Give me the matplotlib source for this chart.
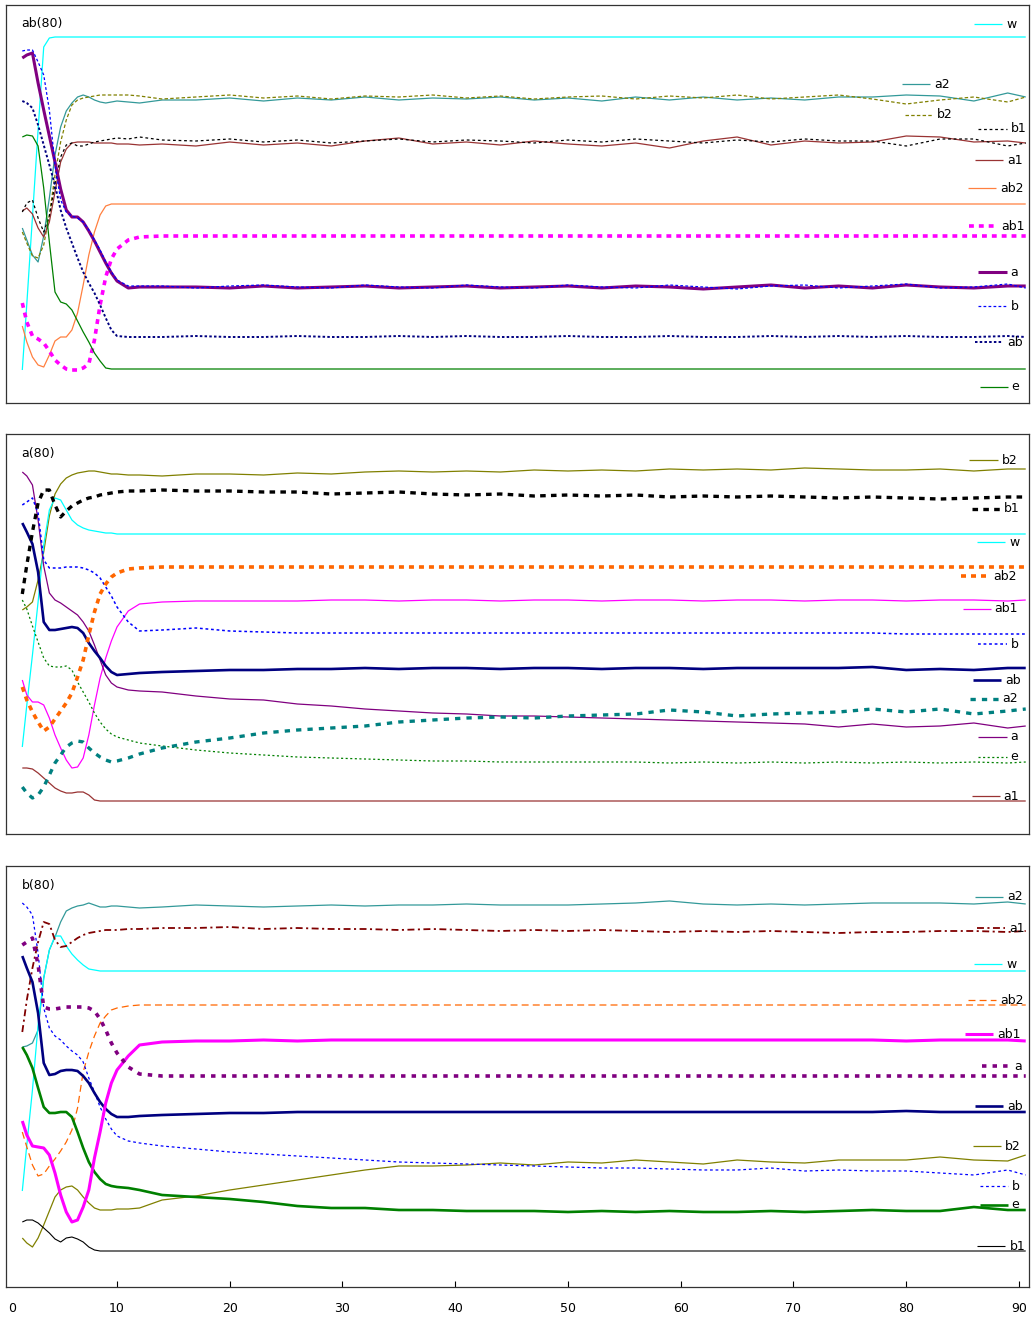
import matplotlib
matplotlib.use("Agg")
import matplotlib.pyplot as plt

plt.rcParams["font.family"] = ["DejaVu Sans"]
plt.rcParams["lines.scale_dashes"] = False

# time axis shared by all three panels
X = [1.6, 2, 2.5, 3, 3.5, 4, 4.5, 5, 5.5, 6, 6.5, 7, 7.5, 8, 8.5, 9, 9.5, 10, 11, 12,
     14, 17, 20, 23, 26, 29, 32, 35, 38, 41, 44, 47, 50, 53, 56, 59, 62, 65, 68, 71,
     74, 77, 80, 83, 86, 89, 90.6]

# ---- panel 1 : ab(80) ----
p1_w = [33, 99, 186, 273, 356, 365, 366, 366, 366, 366, 366, 366, 366, 366, 366, 366, 366, 366, 366, 366,
        366, 366, 366, 366, 366, 366, 366, 366, 366, 366, 366, 366, 366, 366, 366, 366, 366, 366, 366, 366,
        366, 366, 366, 366, 366, 366, 366]
p1_a2 = [175, 163, 148, 141, 167, 205, 248, 276, 292, 300, 306, 308, 306, 303, 301, 300, 301, 302, 301, 300,
         303, 303, 305, 302, 305, 303, 306, 303, 305, 304, 306, 303, 305, 302, 306, 303, 306, 303, 305, 303,
         306, 306, 308, 307, 302, 310, 306]
p1_b2 = [171, 160, 147, 145, 158, 188, 228, 261, 283, 298, 303, 305, 306, 307, 308, 308, 308, 308, 308, 307,
         304, 306, 308, 305, 307, 304, 307, 306, 308, 305, 307, 304, 306, 307, 304, 307, 305, 308, 304, 306,
         308, 304, 299, 303, 306, 301, 306]
p1_b1 = [191, 200, 203, 185, 171, 187, 219, 246, 258, 260, 257, 257, 259, 261, 262, 263, 264, 265, 264, 266,
         263, 262, 264, 261, 263, 260, 262, 264, 261, 263, 262, 260, 263, 261, 264, 262, 260, 263, 261, 264,
         262, 262, 257, 264, 264, 257, 260]
p1_a1 = [192, 195, 189, 175, 166, 181, 211, 241, 254, 260, 261, 261, 261, 260, 260, 260, 260, 259, 259, 258,
         259, 257, 261, 258, 260, 257, 262, 265, 259, 261, 258, 262, 259, 257, 260, 255, 262, 266, 258, 262,
         260, 261, 267, 266, 261, 262, 260]
p1_ab2 = [77, 61, 46, 38, 36, 48, 62, 66, 66, 73, 90, 118, 148, 171, 188, 197, 199, 199, 199, 199,
          199, 199, 199, 199, 199, 199, 199, 199, 199, 199, 199, 199, 199, 199, 199, 199, 199, 199, 199, 199,
          199, 199, 199, 199, 199, 199, 199]
p1_ab1 = [100, 81, 67, 64, 60, 52, 43, 38, 34, 33, 33, 35, 39, 63, 98, 126, 144, 154, 163, 166,
          167, 167, 167, 167, 167, 167, 167, 167, 167, 167, 167, 167, 167, 167, 167, 167, 167, 167, 167, 167,
          167, 167, 167, 167, 167, 167, 167]
p1_a = [345, 348, 350, 320, 293, 267, 241, 214, 193, 186, 186, 181, 172, 162, 151, 140, 130, 122, 115, 116,
        116, 116, 115, 117, 115, 116, 117, 115, 116, 117, 115, 116, 117, 115, 117, 116, 114, 116, 118, 115,
        117, 115, 118, 116, 115, 117, 117]
p1_b = [352, 353, 353, 341, 328, 293, 238, 203, 191, 187, 185, 181, 173, 163, 153, 141, 131, 123, 117, 117,
        117, 115, 117, 118, 116, 115, 118, 116, 115, 118, 116, 115, 118, 116, 115, 118, 116, 114, 117, 118,
        115, 117, 119, 115, 116, 119, 115]
p1_ab = [302, 300, 295, 278, 258, 238, 218, 193, 175, 160, 145, 131, 120, 110, 98, 85, 73, 67, 66, 66,
         66, 67, 66, 66, 67, 66, 66, 67, 66, 67, 66, 66, 67, 66, 66, 67, 66, 66, 67, 66,
         67, 66, 67, 66, 66, 67, 66]
p1_e = [266, 268, 267, 257, 215, 161, 111, 101, 99, 93, 82, 71, 61, 50, 42, 35, 34, 34, 34, 34,
        34, 34, 34, 34, 34, 34, 34, 34, 34, 34, 34, 34, 34, 34, 34, 34, 34, 34, 34, 34,
        34, 34, 34, 34, 34, 34, 34]

# ---- panel 2 : a(80) ----
p2_b2 = [224, 227, 232, 254, 282, 318, 340, 350, 356, 359, 361, 362, 363, 363, 362, 361, 360, 360, 359, 359,
         358, 360, 360, 359, 361, 360, 362, 363, 362, 363, 362, 364, 363, 364, 363, 365, 364, 365, 364, 366,
         365, 364, 364, 365, 363, 365, 365]
p2_b1 = [240, 269, 302, 331, 344, 344, 329, 317, 323, 328, 331, 334, 336, 337, 339, 340, 341, 342, 343, 343,
         344, 343, 343, 342, 342, 340, 341, 342, 340, 339, 340, 338, 339, 338, 339, 337, 338, 337, 338, 337,
         336, 337, 336, 335, 336, 337, 337]
p2_w = [87, 129, 179, 232, 289, 324, 336, 334, 324, 314, 309, 306, 304, 303, 302, 301, 301, 300, 300, 300,
        300, 300, 300, 300, 300, 300, 300, 300, 300, 300, 300, 300, 300, 300, 300, 300, 300, 300, 300, 300,
        300, 300, 300, 300, 300, 300, 300]
p2_ab2 = [147, 134, 122, 112, 103, 107, 115, 123, 131, 141, 157, 174, 199, 222, 240, 250, 257, 261, 265, 266,
          267, 267, 267, 267, 267, 267, 267, 267, 267, 267, 267, 267, 267, 267, 267, 267, 267, 267, 267, 267,
          267, 267, 267, 267, 267, 267, 267]
p2_ab1 = [154, 139, 132, 132, 129, 116, 99, 86, 74, 66, 67, 76, 99, 129, 156, 176, 193, 207, 223, 230,
          232, 233, 233, 233, 233, 234, 234, 233, 234, 234, 233, 234, 234, 233, 234, 234, 233, 234, 234, 233,
          234, 234, 233, 234, 234, 233, 234]
p2_b = [329, 332, 336, 321, 274, 266, 266, 266, 267, 267, 267, 266, 264, 261, 256, 247, 238, 227, 212, 203,
        204, 206, 203, 202, 201, 201, 201, 201, 201, 201, 201, 201, 201, 201, 201, 201, 201, 201, 201, 201,
        201, 201, 200, 200, 200, 200, 200]
p2_ab = [311, 302, 290, 262, 212, 204, 204, 205, 206, 207, 206, 201, 191, 183, 176, 168, 162, 159, 160, 161,
         162, 163, 164, 164, 165, 165, 166, 165, 166, 166, 165, 166, 166, 165, 166, 166, 165, 166, 166, 166,
         166, 167, 164, 165, 164, 166, 166]
p2_a = [362, 358, 349, 314, 268, 241, 234, 231, 227, 223, 219, 212, 203, 189, 174, 159, 151, 147, 144, 143,
        142, 138, 135, 134, 130, 128, 125, 123, 121, 120, 118, 118, 117, 116, 115, 114, 113, 112, 111, 110,
        107, 110, 107, 108, 111, 106, 108]
p2_a2 = [47, 41, 36, 39, 47, 59, 71, 79, 87, 91, 93, 92, 86, 81, 77, 74, 72, 73, 76, 80,
         86, 92, 96, 101, 104, 106, 108, 112, 114, 116, 117, 116, 118, 119, 120, 124, 122, 118, 120, 121,
         122, 125, 122, 125, 120, 123, 125]
p2_e = [234, 225, 208, 192, 176, 168, 167, 167, 168, 164, 152, 142, 132, 121, 112, 105, 100, 97, 94, 91,
        88, 84, 81, 79, 77, 76, 75, 74, 73, 73, 72, 72, 72, 72, 72, 71, 72, 71, 72, 71,
        72, 71, 72, 71, 72, 71, 72]
p2_a1 = [66, 66, 65, 61, 56, 51, 46, 43, 41, 41, 42, 42, 39, 34, 33, 33, 33, 33, 33, 33,
         33, 33, 33, 33, 33, 33, 33, 33, 33, 33, 33, 33, 33, 33, 33, 33, 33, 33, 33, 33,
         33, 33, 33, 33, 33, 33, 33]

# ---- panel 3 : b(80) ----
p3_a2 = [240, 241, 244, 257, 309, 337, 350, 365, 376, 379, 381, 382, 384, 382, 380, 380, 381, 381, 380, 379,
         380, 382, 381, 380, 381, 382, 381, 382, 382, 383, 382, 382, 382, 383, 384, 386, 383, 382, 383, 382,
         383, 384, 384, 384, 383, 385, 383]
p3_a1 = [255, 287, 319, 345, 365, 363, 347, 340, 341, 345, 349, 352, 354, 355, 356, 357, 357, 357, 358, 358,
         359, 359, 360, 358, 359, 358, 358, 357, 358, 357, 356, 357, 356, 357, 356, 355, 356, 355, 356, 355,
         354, 355, 355, 356, 356, 355, 356]
p3_w = [96, 142, 197, 262, 309, 337, 351, 351, 341, 333, 327, 322, 318, 317, 316, 316, 316, 316, 316, 316,
        316, 316, 316, 316, 316, 316, 316, 316, 316, 316, 316, 316, 316, 316, 316, 316, 316, 316, 316, 316,
        316, 316, 316, 316, 316, 316, 316]
p3_ab2 = [155, 140, 122, 111, 113, 121, 128, 136, 145, 157, 179, 215, 235, 251, 264, 271, 277, 279, 281, 282,
          282, 282, 282, 282, 282, 282, 282, 282, 282, 282, 282, 282, 282, 282, 282, 282, 282, 282, 282, 282,
          282, 282, 282, 282, 282, 282, 282]
p3_ab1 = [166, 152, 141, 140, 139, 132, 114, 92, 75, 65, 67, 80, 97, 129, 155, 184, 204, 217, 231, 242,
          245, 246, 246, 247, 246, 247, 247, 247, 247, 247, 247, 247, 247, 247, 247, 247, 247, 247, 247, 247,
          247, 247, 246, 247, 247, 247, 246]
p3_a = [342, 345, 349, 322, 280, 278, 278, 279, 280, 280, 280, 280, 279, 276, 268, 257, 244, 234, 220, 213,
        211, 211, 211, 211, 211, 211, 211, 211, 211, 211, 211, 211, 211, 211, 211, 211, 211, 211, 211, 211,
        211, 211, 211, 211, 211, 211, 211]
p3_ab = [331, 319, 305, 274, 224, 212, 213, 216, 217, 217, 216, 211, 204, 194, 185, 178, 173, 170, 170, 171,
         172, 173, 174, 174, 175, 175, 175, 175, 175, 175, 175, 175, 175, 175, 175, 175, 175, 175, 175, 175,
         175, 175, 176, 175, 175, 175, 175]
p3_b2 = [49, 44, 40, 49, 62, 76, 90, 97, 100, 101, 97, 90, 84, 79, 77, 77, 77, 78, 78, 79,
         87, 91, 97, 102, 107, 112, 117, 121, 121, 122, 124, 122, 125, 124, 127, 125, 123, 127, 125, 124,
         127, 127, 127, 130, 127, 126, 132]
p3_b = [384, 380, 372, 334, 279, 259, 251, 247, 241, 236, 232, 225, 209, 195, 180, 168, 158, 151, 146, 144,
        141, 138, 135, 133, 131, 129, 127, 125, 124, 123, 122, 121, 120, 119, 119, 118, 117, 117, 119, 116,
        117, 116, 116, 114, 112, 117, 112]
p3_e = [240, 232, 219, 199, 180, 174, 174, 175, 175, 170, 155, 139, 125, 115, 108, 103, 101, 100, 99, 97,
        92, 90, 88, 85, 81, 79, 79, 77, 77, 76, 76, 76, 75, 76, 75, 76, 75, 75, 76, 75,
        76, 77, 76, 76, 80, 77, 77]
p3_b1 = [65, 67, 67, 64, 59, 54, 48, 45, 49, 50, 48, 45, 40, 37, 36, 36, 36, 36, 36, 36,
         36, 36, 36, 36, 36, 36, 36, 36, 36, 36, 36, 36, 36, 36, 36, 36, 36, 36, 36, 36,
         36, 36, 36, 36, 36, 36, 36]

# series: name, values, colour, linewidth, dash pattern (None = solid)
series1 = [
    ("w", p1_w, "#00FFFF", 0.9, None),
    ("a2", p1_a2, "#339999", 0.9, None),
    ("b2", p1_b2, "#808000", 0.9, (2.5, 1.6)),
    ("a1", p1_a1, "#993333", 0.9, None),
    ("b1", p1_b1, "black", 0.9, (2, 2)),
    ("ab2", p1_ab2, "#FF8040", 0.9, None),
    ("ab1", p1_ab1, "#FF00FF", 2.6, (3.5, 3.6)),
    ("e", p1_e, "#008000", 0.9, None),
    ("ab", p1_ab, "#000080", 1.4, (1.8, 1.6)),
    ("a", p1_a, "#800080", 2.2, None),
    ("b", p1_b, "#0000FF", 0.9, (2, 1.6)),
]
legend1 = [("w", 86.0, 379), ("a2", 79.6, 319), ("b2", 79.9, 288), ("b1", 86.4, 274),
           ("a1", 86.1, 243), ("ab2", 85.5, 215), ("ab1", 85.6, 177), ("a", 86.4, 131),
           ("b", 86.4, 97), ("ab", 86.1, 61), ("e", 86.5, 16)]

series2 = [
    ("b2", p2_b2, "#808000", 0.9, None),
    ("w", p2_w, "#00FFFF", 0.9, None),
    ("ab1", p2_ab1, "#FF00FF", 0.9, None),
    ("a", p2_a, "#800080", 0.9, None),
    ("a1", p2_a1, "#993333", 0.9, None),
    ("e", p2_e, "#008000", 0.9, (1.5, 1.8)),
    ("b", p2_b, "#0000FF", 1.1, (2, 2)),
    ("ab", p2_ab, "#000080", 1.9, None),
    ("a2", p2_a2, "#008080", 2.4, (3.8, 4.4)),
    ("ab2", p2_ab2, "#FF6600", 2.6, (3.6, 3.6)),
    ("b1", p2_b1, "black", 2.4, (4.0, 3.8)),
]
legend2 = [("b2", 85.6, 374), ("b1", 85.8, 325), ("w", 86.3, 292), ("ab2", 84.9, 258),
           ("ab1", 85.0, 225), ("b", 86.4, 190), ("ab", 85.9, 154), ("a2", 85.7, 135),
           ("a", 86.4, 97), ("e", 86.4, 77), ("a1", 85.8, 38)]

series3 = [
    ("a2", p3_a2, "#339999", 0.9, None),
    ("w", p3_w, "#00FFFF", 0.9, None),
    ("b2", p3_b2, "#808000", 0.9, None),
    ("b1", p3_b1, "black", 0.8, None),
    ("ab2", p3_ab2, "#FF6600", 0.9, (5, 3)),
    ("b", p3_b, "#0000FF", 0.9, (2, 2)),
    ("a1", p3_a1, "#800000", 1.3, (5, 2.5, 1.5, 2.5)),
    ("e", p3_e, "#008000", 1.9, None),
    ("ab", p3_ab, "#000080", 1.9, None),
    ("ab1", p3_ab1, "#FF00FF", 2.2, None),
    ("a", p3_a, "#800080", 2.6, (3.2, 4.4)),
]
legend3 = [("a2", 86.1, 390), ("a1", 86.3, 359), ("w", 86.0, 323), ("ab2", 85.5, 287),
           ("ab1", 85.2, 253), ("a", 86.7, 221), ("ab", 86.1, 181), ("b2", 85.9, 141),
           ("b", 86.5, 101), ("e", 86.5, 82), ("b1", 86.3, 41)]


def styled(ax, xs, ys, color, lw, dash):
    line, = ax.plot(xs, ys, color=color, lw=lw, solid_capstyle="butt",
                    dash_capstyle="butt", solid_joinstyle="round")
    if dash:
        line.set_dashes(dash)
    return line


def draw_panel(ax, series, legend, title, height):
    styles = {}
    for name, vals, color, lw, dash in series:
        styled(ax, X, vals, color, lw, dash)
        styles[name] = (color, lw, dash)
    for name, x0, y in legend:
        color, lw, dash = styles[name]
        styled(ax, [x0, x0 + 2.5], [y, y], color, lw, dash)
        ax.text(x0 + 2.85, y, name, fontsize=9, va="center", ha="left")
    ax.text(1.55, height - 19, title, fontsize=9, va="center", ha="left")
    ax.set_xlim(0.11, 90.89)
    ax.set_ylim(0, height)
    ax.set_yticks([])
    for sp in ax.spines.values():
        sp.set_color("#333333")
        sp.set_linewidth(0.9)


fig = plt.figure(figsize=(10.34, 13.2), dpi=100)
left, width = 5.5 / 1034, 1023.5 / 1034
ax1 = fig.add_axes([left, 1 - 403 / 1320, width, 398.5 / 1320])
ax2 = fig.add_axes([left, 1 - 834 / 1320, width, 399.5 / 1320])
ax3 = fig.add_axes([left, 1 - 1287 / 1320, width, 421 / 1320])

draw_panel(ax1, series1, legend1, "ab(80)", 398.5)
draw_panel(ax2, series2, legend2, "a(80)", 399.5)
draw_panel(ax3, series3, legend3, "b(80)", 421)

ax1.set_xticks([])
ax2.set_xticks([])
ax3.set_xticks(range(10, 91, 10))
ax3.tick_params(axis="x", direction="in", length=4, width=0.8, labelsize=9, pad=11)
ax3.annotate("0", xy=(0.66, 0), xycoords=("data", "axes fraction"), xytext=(0, -11),
             textcoords="offset points", ha="center", va="top", fontsize=9)

fig.savefig("out.png", dpi=100)
